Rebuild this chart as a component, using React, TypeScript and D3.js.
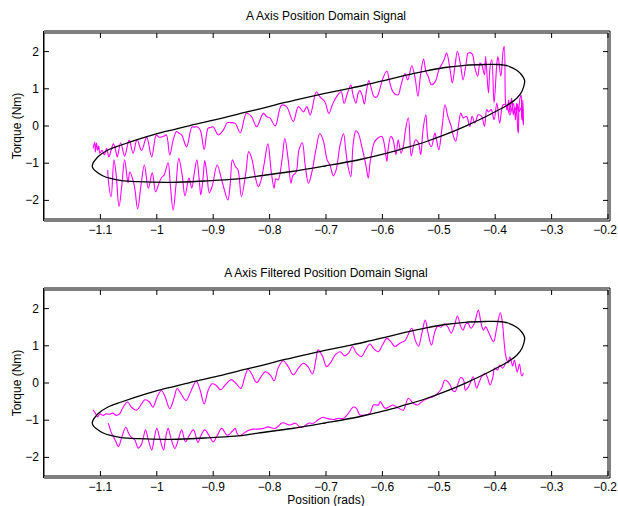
import React from "react";
import * as d3 from "d3";

type P = [number, number];

const xTicks = [-1.1, -1, -0.9, -0.8, -0.7, -0.6, -0.5, -0.4, -0.3, -0.2];
const yTicks = [-2, -1, 0, 1, 2];
const xDomain: P = [-1.2, -0.2];
const yDomain: P = [-2.5, 2.5];

const titles = ["A Axis Position Domain Signal", "A Axis Filtered Position Domain Signal"];
const yLabel = "Torque (Nm)";
const xLabel = "Position (rads)";

// black model loop (position, torque)
const modelUpper: P[] = [
  [-1.1144, -1.08], [-1.1131, -1.0], [-1.1085, -0.9], [-1.1043, -0.825], [-1.0865, -0.645], [-1.0629, -0.511],
  [-1.0333, -0.358], [-1.0037, -0.223], [-0.9683, -0.089], [-0.9328, 0.046], [-0.8856, 0.207], [-0.8383, 0.384],
  [-0.8082, 0.492], [-0.7727, 0.632], [-0.7372, 0.758], [-0.7018, 0.874], [-0.6663, 0.987], [-0.6309, 1.102],
  [-0.5954, 1.228], [-0.5599, 1.358], [-0.5245, 1.478], [-0.489, 1.573], [-0.4535, 1.632], [-0.4181, 1.653],
  [-0.395, 1.653], [-0.3773, 1.613], [-0.3619, 1.497], [-0.353, 1.371], [-0.348, 1.237],
];
const modelLower: P[] = [
  [-0.348, 1.156], [-0.3525, 0.933], [-0.3613, 0.753], [-0.3773, 0.573], [-0.395, 0.422], [-0.4181, 0.242],
  [-0.4535, -0.008], [-0.489, -0.234], [-0.5245, -0.43], [-0.5599, -0.591], [-0.5954, -0.745], [-0.6433, -0.914],
  [-0.7018, -1.075], [-0.7603, -1.223], [-0.8206, -1.345], [-0.8613, -1.43], [-0.915, -1.478], [-0.9742, -1.513],
  [-1.0333, -1.497], [-1.0629, -1.468], [-1.082, -1.41], [-1.095, -1.344], [-1.107, -1.228], [-1.1125, -1.15],
];

// raw measured signal, outbound (left to right) then return (right to left)
const rawOutbound: P[] = [
  [-1.113, -0.6], [-1.11, -0.43], [-1.109, -0.7], [-1.107, -0.46], [-1.105, -0.65], [-1.103, -0.54], [-1.101, -0.73],
  [-1.097, -0.65], [-1.093, -0.78], [-1.089, -0.6], [-1.085, -0.83], [-1.081, -0.65], [-1.077, -0.48], [-1.073, -0.65],
  [-1.07, -0.83], [-1.064, -0.45], [-1.057, -0.81], [-1.049, -0.38], [-1.042, -0.73], [-1.035, -0.36], [-1.027, -0.66],
  [-1.018, -0.3], [-1.009, -0.83], [-1.001, -0.24], [-0.996, -0.3], [-0.992, -0.3], [-0.987, -0.27], [-0.983, -0.24],
  [-0.977, -0.78], [-0.971, -0.38], [-0.965, -0.15], [-0.961, -0.19], [-0.956, -0.24], [-0.947, -0.56], [-0.938, -0.03],
  [-0.934, -0.03], [-0.929, -0.02], [-0.923, -0.11], [-0.916, -0.63], [-0.909, -0.06], [-0.904, -0.04], [-0.9, -0.02],
  [-0.891, -0.24], [-0.882, -0.11], [-0.875, 0.09], [-0.87, 0.09], [-0.861, 0.07], [-0.852, -0.18], [-0.841, 0.34],
  [-0.832, 0.25], [-0.823, -0.02], [-0.811, 0.34], [-0.805, 0.25], [-0.799, 0.21], [-0.79, 0.0], [-0.779, 0.56],
  [-0.77, 0.52], [-0.758, 0.12], [-0.749, 0.52], [-0.74, 0.38], [-0.734, 0.52], [-0.728, 0.3], [-0.717, 0.92],
  [-0.711, 0.79], [-0.702, 0.65], [-0.695, 0.34], [-0.689, 0.56], [-0.684, 0.72], [-0.678, 0.86], [-0.673, 0.92],
  [-0.668, 0.61], [-0.662, 0.88], [-0.656, 1.1], [-0.652, 0.83], [-0.647, 0.61], [-0.643, 0.88], [-0.64, 0.95],
  [-0.636, 0.83], [-0.632, 0.59], [-0.628, 0.97], [-0.624, 1.22], [-0.619, 0.97], [-0.615, 0.79], [-0.61, 0.78],
  [-0.604, 1.02], [-0.599, 1.29], [-0.592, 1.48], [-0.588, 1.24], [-0.583, 0.97], [-0.578, 0.86], [-0.572, 0.84],
  [-0.567, 1.1], [-0.56, 1.41], [-0.555, 1.24], [-0.548, 1.62], [-0.542, 1.29], [-0.537, 0.8], [-0.532, 1.42],
  [-0.527, 1.8], [-0.523, 1.47], [-0.519, 1.34], [-0.513, 1.11], [-0.506, 1.2], [-0.5, 1.51], [-0.495, 1.65],
  [-0.491, 1.77], [-0.486, 1.96], [-0.48, 1.51], [-0.476, 1.16], [-0.471, 1.65], [-0.467, 2.01], [-0.461, 1.6],
  [-0.457, 1.24], [-0.451, 1.74], [-0.448, 1.96], [-0.441, 1.94], [-0.436, 1.56], [-0.431, 1.34], [-0.427, 1.69],
  [-0.424, 1.65], [-0.419, 1.38], [-0.417, 1.87], [-0.412, 0.89], [-0.409, 1.6], [-0.406, 1.78], [-0.402, 0.62],
  [-0.397, 1.69], [-0.395, 1.87], [-0.39, 1.34], [-0.386, 2.01], [-0.384, 2.14], [-0.382, 0.71], [-0.381, 0.57],
  [-0.379, 0.43], [-0.376, 0.7], [-0.374, 0.38], [-0.371, 0.75], [-0.368, 0.3], [-0.366, 0.48], [-0.364, 0.16],
  [-0.362, 0.62], [-0.36, -0.11], [-0.359, -0.19], [-0.358, 0.43], [-0.356, 0.75], [-0.354, 0.83], [-0.353, 0.22],
  [-0.352, 0.16], [-0.351, 0.7], [-0.35, 0.22], [-0.35, 0.03],
];
const rawReturn: P[] = [
  [-0.354, 0.48], [-0.358, 0.38], [-0.361, 0.59], [-0.365, 0.43], [-0.368, 0.61], [-0.374, 0.3], [-0.38, 0.56],
  [-0.386, 0.57], [-0.392, 0.08], [-0.397, 0.62], [-0.402, 0.17], [-0.407, 0.44], [-0.412, 0.38], [-0.415, 0.44],
  [-0.419, -0.01], [-0.424, 0.26], [-0.43, 0.3], [-0.436, 0.08], [-0.441, 0.26], [-0.445, -0.01], [-0.451, 0.26],
  [-0.457, 0.22], [-0.461, 0.35], [-0.465, 0.03], [-0.47, -0.41], [-0.474, -0.28], [-0.478, -0.01], [-0.484, 0.26],
  [-0.489, 0.57], [-0.494, -0.01], [-0.5, -0.64], [-0.504, -0.37], [-0.507, -0.19], [-0.513, -0.55], [-0.519, -0.37],
  [-0.523, 0.3], [-0.528, -0.1], [-0.532, -0.77], [-0.536, -0.46], [-0.541, -0.37], [-0.545, -0.55], [-0.549, -0.81],
  [-0.554, 0.22], [-0.559, -0.1], [-0.563, -0.55], [-0.567, -0.73], [-0.572, -0.37], [-0.576, -0.77], [-0.581, -0.37],
  [-0.585, -0.28], [-0.59, -0.64], [-0.592, -0.95], [-0.597, -0.46], [-0.601, -0.28], [-0.61, -0.35], [-0.615, -0.46],
  [-0.618, -0.65], [-0.622, -0.99], [-0.625, -1.4], [-0.629, -1.08], [-0.636, -0.59], [-0.643, -0.19], [-0.647, -0.13],
  [-0.652, -0.51], [-0.656, -1.36], [-0.661, -1.08], [-0.665, -0.65], [-0.669, -0.2], [-0.675, -0.51], [-0.682, -1.18],
  [-0.687, -1.34], [-0.693, -1.05], [-0.698, -0.91], [-0.705, -0.38], [-0.711, -0.2], [-0.718, -0.65], [-0.725, -1.24],
  [-0.731, -1.54], [-0.737, -1.05], [-0.742, -0.45], [-0.748, -0.65], [-0.753, -1.24], [-0.759, -1.34], [-0.762, -1.54],
  [-0.767, -0.91], [-0.773, -0.33], [-0.778, -0.91], [-0.785, -1.45], [-0.789, -1.42], [-0.792, -1.67], [-0.797, -1.24],
  [-0.803, -0.48], [-0.81, -1.05], [-0.815, -1.45], [-0.82, -1.63], [-0.826, -1.32], [-0.831, -0.91], [-0.837, -0.69],
  [-0.842, -1.24], [-0.85, -1.9], [-0.856, -1.18], [-0.861, -1.08], [-0.866, -0.91], [-0.87, -1.59], [-0.874, -1.99],
  [-0.881, -1.67], [-0.885, -1.45], [-0.893, -1.05], [-0.902, -1.63], [-0.907, -1.79], [-0.911, -1.32], [-0.915, -0.93],
  [-0.918, -1.4], [-0.922, -1.85], [-0.925, -1.4], [-0.929, -0.91], [-0.934, -1.32], [-0.938, -1.67], [-0.943, -1.4],
  [-0.95, -1.88], [-0.955, -1.32], [-0.961, -0.87], [-0.966, -1.59], [-0.971, -2.26], [-0.976, -1.59], [-0.98, -0.99],
  [-0.987, -1.32], [-0.991, -1.37], [-0.996, -1.53], [-1.002, -1.77], [-1.008, -1.26], [-1.015, -1.67], [-1.022, -1.05],
  [-1.028, -1.59], [-1.034, -2.23], [-1.04, -1.59], [-1.048, -1.24], [-1.051, -1.53], [-1.057, -0.91], [-1.062, -1.59],
  [-1.067, -2.17], [-1.072, -1.32], [-1.076, -0.91], [-1.081, -1.9], [-1.086, -1.45], [-1.087, -1.18],
];

// filtered signal
const filtOutbound: P[] = [
  [-1.113, -0.72], [-1.109, -0.81], [-1.105, -0.91], [-1.101, -0.83], [-1.095, -0.87], [-1.09, -0.83], [-1.084, -0.84],
  [-1.078, -0.81], [-1.072, -0.87], [-1.066, -0.83], [-1.06, -0.66], [-1.052, -0.51], [-1.045, -0.65], [-1.036, -0.73],
  [-1.027, -0.56], [-1.021, -0.45], [-1.013, -0.51], [-1.007, -0.65], [-0.999, -0.36], [-0.992, -0.2], [-0.985, -0.38],
  [-0.977, -0.69], [-0.969, -0.38], [-0.964, -0.15], [-0.957, -0.29], [-0.948, -0.47], [-0.939, -0.2], [-0.93, 0.05],
  [-0.923, -0.2], [-0.916, -0.56], [-0.909, -0.2], [-0.902, -0.02], [-0.895, -0.06], [-0.887, -0.18], [-0.879, -0.06],
  [-0.868, 0.09], [-0.859, -0.02], [-0.851, -0.15], [-0.844, 0.16], [-0.838, 0.37], [-0.831, 0.22], [-0.823, 0.01],
  [-0.815, 0.17], [-0.808, 0.3], [-0.799, 0.22], [-0.792, 0.06], [-0.785, 0.4], [-0.776, 0.6], [-0.767, 0.44],
  [-0.758, 0.22], [-0.749, 0.4], [-0.74, 0.53], [-0.732, 0.44], [-0.724, 0.24], [-0.718, 0.62], [-0.714, 0.89],
  [-0.706, 0.71], [-0.699, 0.44], [-0.691, 0.57], [-0.684, 0.75], [-0.675, 0.84], [-0.667, 0.73], [-0.66, 0.8],
  [-0.653, 0.98], [-0.646, 0.8], [-0.637, 0.71], [-0.63, 0.89], [-0.622, 1.05], [-0.616, 0.93], [-0.607, 0.84],
  [-0.6, 1.02], [-0.592, 1.2], [-0.585, 1.11], [-0.578, 0.98], [-0.569, 1.07], [-0.56, 1.14], [-0.548, 1.47],
  [-0.542, 1.16], [-0.536, 0.99], [-0.53, 1.34], [-0.524, 1.69], [-0.519, 1.34], [-0.513, 1.02], [-0.507, 1.38],
  [-0.502, 1.53], [-0.496, 1.5], [-0.49, 1.59], [-0.484, 1.51], [-0.478, 1.34], [-0.472, 1.56], [-0.467, 1.8],
  [-0.461, 1.51], [-0.457, 1.42], [-0.452, 1.59], [-0.448, 1.6], [-0.443, 1.47], [-0.437, 1.6], [-0.43, 1.96],
  [-0.425, 1.6], [-0.421, 1.42], [-0.417, 1.51], [-0.411, 1.34], [-0.403, 1.11], [-0.397, 1.51], [-0.391, 1.89],
  [-0.387, 1.6], [-0.384, 1.07], [-0.381, 0.71], [-0.377, 0.54], [-0.374, 0.7], [-0.369, 0.46], [-0.366, 0.62],
  [-0.361, 0.3], [-0.357, 0.51], [-0.353, 0.19], [-0.35, 0.27],
];
const filtReturn: P[] = [
  [-0.381, 0.56], [-0.387, 0.4], [-0.392, 0.48], [-0.396, 0.35], [-0.401, 0.4], [-0.404, 0.17], [-0.409, -0.05],
  [-0.414, 0.16], [-0.418, 0.26], [-0.424, 0.17], [-0.429, 0.0], [-0.433, -0.14], [-0.439, 0.17], [-0.445, -0.03],
  [-0.449, -0.14], [-0.453, -0.19], [-0.456, 0.08], [-0.461, 0.15], [-0.465, 0.03], [-0.471, -0.23], [-0.476, -0.19],
  [-0.48, -0.05], [-0.489, 0.08], [-0.495, -0.14], [-0.502, -0.28], [-0.51, -0.37], [-0.519, -0.41], [-0.526, -0.46],
  [-0.533, -0.54], [-0.537, -0.59], [-0.545, -0.55], [-0.554, -0.41], [-0.563, -0.73], [-0.572, -0.67], [-0.581, -0.59],
  [-0.588, -0.64], [-0.595, -0.68], [-0.604, -0.5], [-0.607, -0.59], [-0.616, -0.59], [-0.622, -0.81], [-0.631, -0.86],
  [-0.64, -0.86], [-0.646, -0.68], [-0.652, -0.65], [-0.661, -0.83], [-0.669, -0.95], [-0.678, -0.95], [-0.687, -0.98],
  [-0.699, -0.95], [-0.705, -0.92], [-0.714, -0.99], [-0.722, -1.08], [-0.731, -1.08], [-0.738, -1.16], [-0.746, -1.19],
  [-0.754, -1.08], [-0.764, -1.13], [-0.777, -1.07], [-0.79, -1.22], [-0.803, -1.18], [-0.811, -1.22], [-0.82, -1.24],
  [-0.829, -1.24], [-0.838, -1.28], [-0.845, -1.34], [-0.853, -1.42], [-0.858, -1.35], [-0.861, -1.22], [-0.867, -1.31],
  [-0.873, -1.4], [-0.876, -1.4], [-0.885, -1.22], [-0.893, -1.42], [-0.9, -1.58], [-0.907, -1.42], [-0.915, -1.26],
  [-0.922, -1.42], [-0.927, -1.6], [-0.935, -1.26], [-0.943, -1.42], [-0.949, -1.58], [-0.956, -1.26], [-0.962, -1.53],
  [-0.968, -1.76], [-0.975, -1.48], [-0.98, -1.22], [-0.985, -1.53], [-0.988, -1.8], [-0.994, -1.53], [-1.0, -1.22],
  [-1.005, -1.53], [-1.009, -1.8], [-1.015, -1.53], [-1.02, -1.26], [-1.024, -1.48], [-1.028, -1.67], [-1.033, -1.75],
  [-1.039, -1.53], [-1.046, -1.45], [-1.05, -1.35], [-1.055, -1.19], [-1.062, -1.45], [-1.068, -1.71], [-1.073, -1.56],
  [-1.077, -1.44], [-1.081, -1.32], [-1.086, -1.08],
];

const W = 618;
const H = 506;
const FONT = "'Liberation Sans', Arial, Helvetica, sans-serif";
const FS = 12;
const MAGENTA = "#ff00ff";
const fmt = (v: number) => String(v).replace("-", "\u2212");

type PanelProps = {
  top: number;
  bottom: number;
  title: string;
  titleY: number;
  signals: P[][];
  showXLabel: boolean;
};

function Panel({ top, bottom, title, titleY, signals, showXLabel }: PanelProps) {
  const left = 44;
  const right = 608;
  const x = d3.scaleLinear().domain(xDomain).range([left, right]);
  const y = d3.scaleLinear().domain(yDomain).range([bottom, top]);
  const line = d3
    .line<P>()
    .x((d) => x(d[0]))
    .y((d) => y(d[1]))
    .curve(d3.curveCatmullRom.alpha(0.5));
  const loop = d3
    .line<P>()
    .x((d) => x(d[0]))
    .y((d) => y(d[1]))
    .curve(d3.curveCatmullRomClosed.alpha(0.5));
  const tl = 5;
  return (
    <g>
      <text x={(left + right) / 2} y={titleY} textAnchor="middle" fontSize={FS} fontFamily={FONT}>
        {title}
      </text>
      {signals.map((s, i) => (
        <path key={i} d={line(s) || ""} fill="none" stroke={MAGENTA} strokeWidth={1.1} />
      ))}
      <path d={loop([...modelUpper, ...modelLower]) || ""} fill="none" stroke="#000" strokeWidth={1.3} />
      <rect x={left} y={top} width={right - left} height={bottom - top} fill="none" stroke="#000" strokeWidth={1} />
      <line x1={left} x2={right + 2} y1={top - 2} y2={top - 2} stroke="#000" strokeWidth={1} />
      <line x1={left} x2={right + 2} y1={bottom + 2} y2={bottom + 2} stroke="#000" strokeWidth={1} />
      <line x1={right + 2} x2={right + 2} y1={top - 2} y2={bottom + 2} stroke="#000" strokeWidth={1} />
      <line x1={left - 0.5} x2={left - 0.5} y1={top - 2} y2={bottom + 2} stroke="#000" strokeWidth={1} />
      {xTicks.map((t, i) => {
        const last = i === xTicks.length - 1;
        return (
          <g key={"x" + t}>
            <line x1={x(t)} x2={x(t)} y1={bottom} y2={bottom - tl} stroke="#000" />
            <line x1={x(t)} x2={x(t)} y1={top} y2={top + tl} stroke="#000" />
            <text
              x={last ? W - 1 : x(t)}
              y={bottom + 15}
              textAnchor={last ? "end" : "middle"}
              fontSize={FS}
              fontFamily={FONT}
            >
              {fmt(t)}
            </text>
          </g>
        );
      })}
      {yTicks.map((t) => (
        <g key={"y" + t}>
          <line x1={left} x2={left + tl} y1={y(t)} y2={y(t)} stroke="#000" />
          <line x1={right} x2={right - tl} y1={y(t)} y2={y(t)} stroke="#000" />
          <text x={left - 5} y={y(t) + 4} textAnchor="end" fontSize={FS} fontFamily={FONT}>
            {fmt(t)}
          </text>
        </g>
      ))}
      <text
        transform={`translate(21,${(top + bottom) / 2}) rotate(-90)`}
        textAnchor="middle"
        fontSize={FS}
        fontFamily={FONT}
      >
        {yLabel}
      </text>
      {showXLabel && (
        <text x={(left + right) / 2} y={bottom + 28} textAnchor="middle" fontSize={FS} fontFamily={FONT}>
          {xLabel}
        </text>
      )}
    </g>
  );
}

export default function App() {
  return (
    <svg
      width={W}
      height={H}
      style={{ position: "absolute", left: 0, top: 0, background: "#fff" }}
      xmlns="http://www.w3.org/2000/svg"
    >
      <rect x={0} y={0} width={W} height={H} fill="#fff" />
      <Panel top={33} bottom={219} title={titles[0]} titleY={20} signals={[[...rawOutbound, ...rawReturn]]} showXLabel={false} />
      <Panel top={290} bottom={476} title={titles[1]} titleY={277} signals={[filtOutbound, filtReturn]} showXLabel={true} />
    </svg>
  );
}
